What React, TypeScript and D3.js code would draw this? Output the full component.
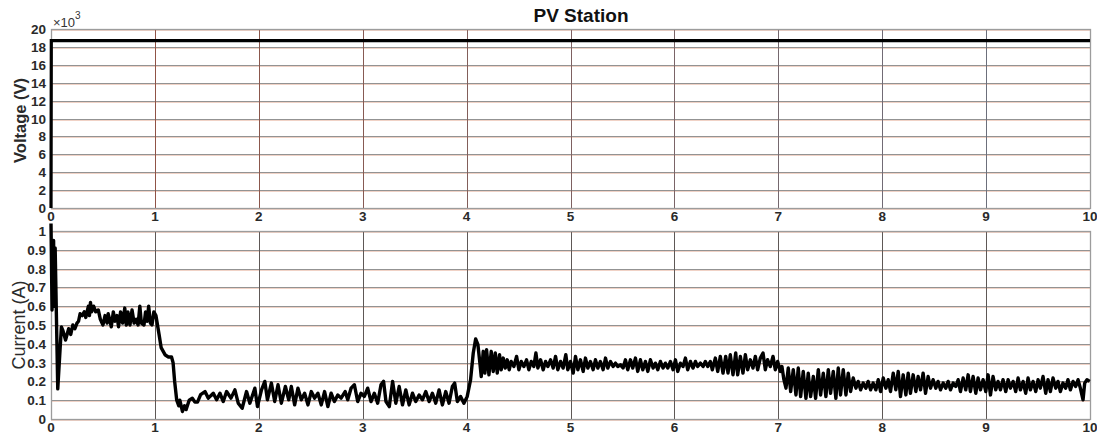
import React from 'react';
import * as d3 from 'd3';

// time axis (s)
const timeTicks = [0, 1, 2, 3, 4, 5, 6, 7, 8, 9, 10];
const voltageTicks = [0, 2, 4, 6, 8, 10, 12, 14, 16, 18, 20];
const currentTicks = [0, 0.1, 0.2, 0.3, 0.4, 0.5, 0.6, 0.7, 0.8, 0.9, 1];
const currentTickLabels = ['0', '0.1', '0.2', '0.3', '0.4', '0.5', '0.6', '0.7', '0.8', '0.9', '1'];

// voltage in kV (x10^3)
const voltageTrace: [number, number][] = [[0, 0], [0.003, 18.7], [10, 18.7]];

// current (A)
const currentStartup: [number, number][] = [
  [0, 1.04], [0.01, 0.58], [0.025, 0.95], [0.03, 0.6], [0.04, 0.91], [0.065, 0.16],
  [0.1, 0.49], [0.115, 0.47], [0.14, 0.42], [0.17, 0.48], [0.19, 0.45], [0.21, 0.5],
  [0.23, 0.48], [0.25, 0.51], [0.265, 0.52], [0.28, 0.56], [0.3, 0.55], [0.32, 0.57],
  [0.335, 0.54], [0.36, 0.6], [0.37, 0.55], [0.38, 0.62], [0.39, 0.57], [0.41, 0.6],
  [0.43, 0.57], [0.455, 0.58], [0.475, 0.53], [0.5, 0.5], [0.52, 0.55], [0.54, 0.51],
  [0.55, 0.56], [0.565, 0.53], [0.58, 0.49], [0.6, 0.57], [0.615, 0.52], [0.635, 0.55],
  [0.65, 0.49], [0.67, 0.57], [0.69, 0.51], [0.71, 0.59], [0.725, 0.5], [0.74, 0.57],
  [0.76, 0.5], [0.78, 0.58], [0.8, 0.51], [0.82, 0.53], [0.838, 0.5], [0.855, 0.6],
  [0.87, 0.51], [0.895, 0.5], [0.91, 0.57], [0.925, 0.52], [0.94, 0.6], [0.957, 0.51],
  [0.972, 0.5], [0.99, 0.57], [1.01, 0.55], [1.04, 0.45], [1.06, 0.38], [1.08, 0.36],
  [1.1, 0.34], [1.13, 0.33], [1.16, 0.33], [1.175, 0.3], [1.19, 0.2], [1.21, 0.1],
  [1.23, 0.07], [1.24, 0.1], [1.265, 0.04], [1.285, 0.07], [1.3, 0.05], [1.33, 0.1],
  [1.36, 0.11], [1.385, 0.09], [1.41, 0.09], [1.44, 0.13],
];

const currentLowLoad: [number, number][] = [
  [1.482, 0.146], [1.514, 0.111], [1.562, 0.137], [1.594, 0.102], [1.626, 0.137], [1.658, 0.093],
  [1.69, 0.146], [1.732, 0.111], [1.77, 0.155], [1.802, 0.084], [1.84, 0.057], [1.882, 0.146],
  [1.914, 0.084], [1.962, 0.164], [1.987, 0.066], [2.026, 0.155], [2.058, 0.2], [2.083, 0.102],
  [2.121, 0.191], [2.153, 0.093], [2.185, 0.182], [2.217, 0.084], [2.256, 0.173], [2.288, 0.102],
  [2.313, 0.173], [2.345, 0.075], [2.377, 0.164], [2.409, 0.102], [2.441, 0.137], [2.473, 0.075],
  [2.505, 0.146], [2.537, 0.111], [2.569, 0.137], [2.601, 0.075], [2.633, 0.146], [2.665, 0.066],
  [2.696, 0.137], [2.728, 0.093], [2.76, 0.128], [2.792, 0.111], [2.831, 0.146], [2.856, 0.102],
  [2.888, 0.164], [2.92, 0.182], [2.952, 0.093], [2.984, 0.137], [3.016, 0.12], [3.048, 0.164],
  [3.08, 0.093], [3.112, 0.137], [3.144, 0.084], [3.176, 0.182], [3.201, 0.2], [3.224, 0.093],
  [3.256, 0.066], [3.288, 0.2], [3.319, 0.084], [3.351, 0.173], [3.383, 0.075], [3.415, 0.155],
  [3.447, 0.075], [3.479, 0.137], [3.511, 0.093], [3.543, 0.128], [3.575, 0.102], [3.607, 0.146],
  [3.639, 0.093], [3.671, 0.137], [3.703, 0.084], [3.735, 0.155], [3.767, 0.075], [3.799, 0.146],
  [3.831, 0.084], [3.863, 0.173], [3.885, 0.191], [3.911, 0.093], [3.942, 0.12], [3.974, 0.084],
  [4.006, 0.12], [4.038, 0.208],
];

const currentMidLoad: [number, number][] = [
  [4.064, 0.351], [4.087, 0.426], [4.109, 0.395], [4.128, 0.297], [4.141, 0.226], [4.16, 0.36],
  [4.176, 0.244], [4.192, 0.369], [4.215, 0.235], [4.237, 0.36], [4.256, 0.253], [4.276, 0.351],
  [4.295, 0.244], [4.317, 0.342], [4.333, 0.262], [4.353, 0.324], [4.372, 0.271], [4.391, 0.315],
  [4.41, 0.262], [4.429, 0.306], [4.455, 0.279], [4.481, 0.333], [4.503, 0.262], [4.526, 0.306],
  [4.551, 0.279], [4.577, 0.315], [4.599, 0.262], [4.622, 0.306], [4.647, 0.279], [4.667, 0.351],
  [4.686, 0.271], [4.712, 0.315], [4.737, 0.262], [4.76, 0.306], [4.782, 0.279], [4.808, 0.315],
  [4.833, 0.271], [4.856, 0.333], [4.878, 0.262], [4.904, 0.306], [4.929, 0.271], [4.955, 0.342],
  [4.974, 0.262], [5.0, 0.306], [5.026, 0.244], [5.048, 0.333], [5.071, 0.262], [5.096, 0.315],
  [5.122, 0.253], [5.144, 0.324], [5.167, 0.271], [5.192, 0.306], [5.218, 0.262], [5.24, 0.315],
  [5.263, 0.271], [5.288, 0.306], [5.314, 0.262], [5.337, 0.324], [5.359, 0.271], [5.385, 0.306],
  [5.41, 0.279], [5.433, 0.297], [5.455, 0.279], [5.481, 0.288], [5.506, 0.271], [5.529, 0.315],
  [5.551, 0.262], [5.577, 0.315], [5.599, 0.271], [5.625, 0.324], [5.647, 0.253], [5.673, 0.315],
  [5.696, 0.262], [5.721, 0.306], [5.744, 0.253], [5.769, 0.315], [5.795, 0.271], [5.817, 0.297],
  [5.84, 0.262], [5.865, 0.306], [5.891, 0.271], [5.913, 0.297], [5.936, 0.271], [5.962, 0.306],
  [5.987, 0.262], [6.01, 0.315], [6.032, 0.253], [6.058, 0.297], [6.083, 0.279], [6.106, 0.324],
  [6.128, 0.262], [6.154, 0.306], [6.179, 0.271], [6.202, 0.306], [6.224, 0.279], [6.25, 0.297],
  [6.276, 0.279], [6.298, 0.306], [6.321, 0.279], [6.346, 0.306], [6.365, 0.262], [6.394, 0.324],
  [6.417, 0.253], [6.442, 0.333], [6.468, 0.244], [6.494, 0.333], [6.516, 0.244], [6.538, 0.342],
  [6.564, 0.235], [6.59, 0.351], [6.609, 0.235], [6.635, 0.333], [6.66, 0.244], [6.683, 0.342],
  [6.705, 0.262], [6.731, 0.315], [6.756, 0.271], [6.779, 0.333], [6.801, 0.262], [6.827, 0.324],
  [6.853, 0.351], [6.875, 0.262], [6.897, 0.315], [6.923, 0.279], [6.949, 0.333], [6.971, 0.262],
  [6.994, 0.306], [7.019, 0.253], [7.035, 0.279],
];

const currentEndLoad: [number, number][] = [
  [7.054, 0.209], [7.074, 0.164], [7.096, 0.271], [7.119, 0.146], [7.144, 0.262], [7.17, 0.128],
  [7.192, 0.271], [7.215, 0.119], [7.24, 0.253], [7.266, 0.11], [7.288, 0.244], [7.311, 0.119],
  [7.337, 0.226], [7.359, 0.11], [7.385, 0.262], [7.407, 0.128], [7.433, 0.244], [7.458, 0.119],
  [7.481, 0.262], [7.503, 0.137], [7.529, 0.253], [7.554, 0.11], [7.577, 0.271], [7.599, 0.128],
  [7.625, 0.262], [7.651, 0.128], [7.673, 0.244], [7.696, 0.146], [7.721, 0.218], [7.747, 0.164],
  [7.769, 0.2], [7.792, 0.155], [7.817, 0.191], [7.843, 0.164], [7.865, 0.2], [7.888, 0.155],
  [7.913, 0.191], [7.939, 0.155], [7.962, 0.209], [7.984, 0.146], [8.01, 0.218], [8.035, 0.164],
  [8.058, 0.209], [8.08, 0.146], [8.106, 0.244], [8.131, 0.155], [8.154, 0.253], [8.176, 0.119],
  [8.202, 0.235], [8.228, 0.128], [8.25, 0.244], [8.272, 0.137], [8.298, 0.235], [8.324, 0.146],
  [8.346, 0.226], [8.369, 0.155], [8.394, 0.244], [8.417, 0.137], [8.442, 0.226], [8.465, 0.164],
  [8.49, 0.209], [8.516, 0.164], [8.538, 0.2], [8.561, 0.155], [8.587, 0.191], [8.612, 0.164],
  [8.635, 0.2], [8.657, 0.155], [8.683, 0.191], [8.708, 0.173], [8.731, 0.209], [8.753, 0.146],
  [8.779, 0.218], [8.804, 0.155], [8.827, 0.235], [8.849, 0.146], [8.875, 0.226], [8.901, 0.137],
  [8.923, 0.218], [8.946, 0.155], [8.971, 0.209], [8.997, 0.146], [9.019, 0.235], [9.042, 0.128],
  [9.067, 0.226], [9.093, 0.155], [9.115, 0.2], [9.138, 0.155], [9.163, 0.209], [9.189, 0.146],
  [9.212, 0.209], [9.234, 0.164], [9.26, 0.2], [9.285, 0.146], [9.308, 0.218], [9.33, 0.155],
  [9.356, 0.2], [9.381, 0.137], [9.404, 0.218], [9.426, 0.155], [9.452, 0.2], [9.478, 0.146],
  [9.5, 0.209], [9.522, 0.164], [9.548, 0.226], [9.574, 0.137], [9.596, 0.209], [9.619, 0.146],
  [9.644, 0.218], [9.67, 0.164], [9.692, 0.2], [9.715, 0.146], [9.74, 0.191], [9.766, 0.164],
  [9.788, 0.209], [9.811, 0.155], [9.837, 0.2], [9.862, 0.173], [9.885, 0.209], [9.907, 0.164],
  [9.933, 0.102], [9.949, 0.191], [9.971, 0.209], [9.997, 0.2],
];

const currentTrace = [...currentStartup, ...currentLowLoad, ...currentMidLoad, ...currentEndLoad];

const W = 1097;
const H = 444;
const left = 51;
const right = 1090;
const font = '"Liberation Sans", Arial, sans-serif';

const x = d3.scaleLinear().domain([0, 10]).range([left, right]);
const yV = d3.scaleLinear().domain([0, 20]).range([208, 29]);
const yI = d3.scaleLinear().domain([0, 1]).range([419, 231]);

const vLine = d3.line<[number, number]>().x((d) => x(d[0])).y((d) => yV(d[1]));
const iLine = d3.line<[number, number]>().x((d) => x(d[0])).y((d) => yI(d[1]));

const vertTop = d3.interpolateRgb('#94503f', '#687282');

// crisp 1px lines
const px = (v: number) => Math.round(v) + 0.5;

function Panel({ y, ticks, labels, top, bottom, vColor }: any) {
  return (
    <g>
      {ticks.map((t: number) => (
        <g key={'h' + t}>
          <line x1={left} x2={right} y1={px(y(t)) + 1} y2={px(y(t)) + 1} stroke="#f0d2c6" strokeWidth={1} />
          <line x1={left} x2={right} y1={px(y(t))} y2={px(y(t))} stroke="#939393" strokeWidth={1} />
        </g>
      ))}
      {timeTicks.map((t) => (
        <line key={'v' + t} x1={px(x(t))} x2={px(x(t))} y1={top} y2={bottom} stroke={vColor(t)} strokeWidth={1} />
      ))}
      <rect x={px(left)} y={px(top)} width={Math.round(right - left)} height={Math.round(bottom - top)} fill="none" stroke="#9c9c9c" strokeWidth={1.3} />
      {ticks.map((t: number, i: number) => (
        <text key={'l' + t} x={46} y={y(t) + 5} textAnchor="end" fontFamily={font} fontWeight="bold" fontSize={13.5} fill="#2a2a2a">
          {labels[i]}
        </text>
      ))}
      {timeTicks.map((t) => (
        <text key={'x' + t} x={x(t)} y={bottom + 13} textAnchor="middle" fontFamily={font} fontWeight="bold" fontSize={13.5} fill="#2a2a2a">
          {t}
        </text>
      ))}
    </g>
  );
}

export default function App() {
  return (
    <svg width={W} height={H} style={{ position: 'absolute', left: 0, top: 0, background: '#fff' }}>
      <rect width={W} height={H} fill="#fff" />
      <text x={581} y={22} textAnchor="middle" fontFamily={font} fontWeight="bold" fontSize={19} fill="#111">
        PV Station
      </text>
      <Panel
        y={yV}
        ticks={voltageTicks}
        labels={voltageTicks.map(String)}
        top={yV(20)}
        bottom={yV(0)}
        vColor={(t: number) => vertTop(t / 10)}
      />
      <Panel
        y={yI}
        ticks={currentTicks}
        labels={currentTickLabels}
        top={yI(1)}
        bottom={yI(0)}
        vColor={() => '#5e5856'}
      />
      <text x={53} y={27} fontFamily={font} fontSize={13} fill="#333">
        ×10
        <tspan dy={-8} fontSize={10}>3</tspan>
      </text>
      <text
        transform={`translate(26, ${(yV(0) + yV(20)) / 2 + 2}) rotate(-90)`}
        textAnchor="middle"
        fontFamily={font}
        fontWeight="bold"
        fontSize={16.5}
        fill="#2a2a2a"
      >
        Voltage (V)
      </text>
      <text
        transform={`translate(25, ${(yI(0) + yI(1)) / 2}) rotate(-90)`}
        textAnchor="middle"
        fontFamily={font}
        fontSize={18}
        fill="#2a2a2a"
      >
        Current (A)
      </text>
      <path d={vLine(voltageTrace) || ''} fill="none" stroke="#000" strokeWidth={3.2} />
      <path d={iLine(currentTrace) || ''} fill="none" stroke="#000" strokeWidth={3.4} strokeLinejoin="round" />
    </svg>
  );
}
